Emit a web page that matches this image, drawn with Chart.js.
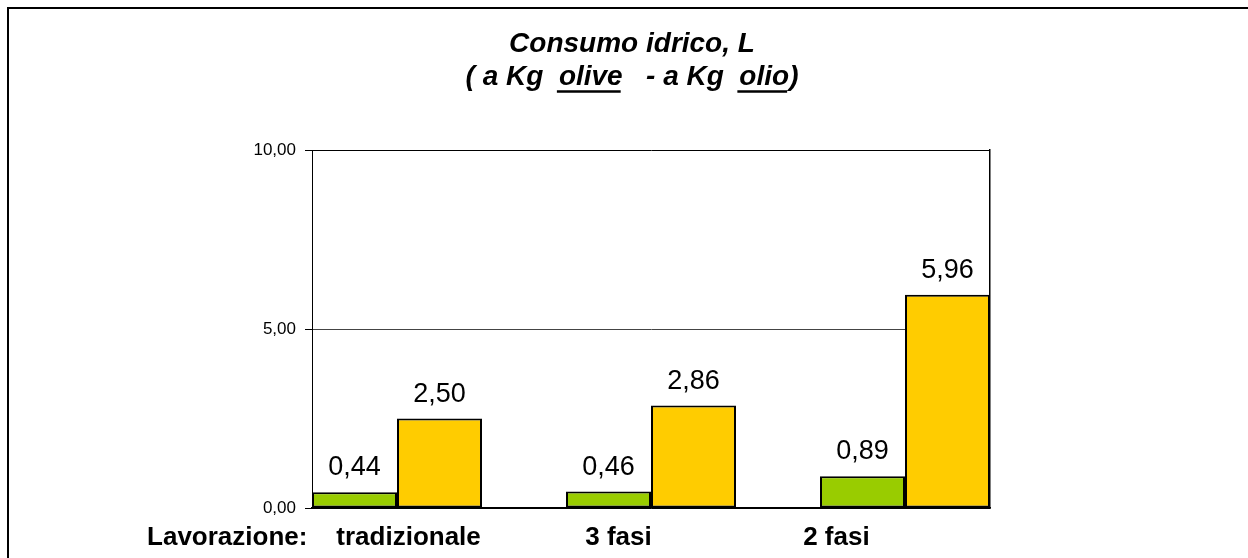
<!DOCTYPE html>
<html>
<head>
<meta charset="utf-8">
<script src="https://cdn.jsdelivr.net/npm/chart.js@4.4.0/dist/chart.umd.min.js"></script>
<style>
    html, body { margin: 0; padding: 0; background: #fff; overflow: hidden; }
    #wrap { position: relative; width: 1248px; height: 558px; }
    #frame {
        position: absolute; left: 7px; top: 7px; width: 1300px; height: 600px;
        border: 2px solid #000; pointer-events: none;
    }
</style>
</head>
<body>
<div id="wrap">
    <canvas id="chart1" width="1248" height="558"></canvas>
    <div id="frame"></div>
</div>
<script>
// data
const categories = ["Lavorazione:    tradizionale", "3 fasi", "2 fasi"];
const oliveValues = [0.44, 0.46, 0.89];   // a Kg olive
const olioValues = [2.50, 2.86, 5.96];    // a Kg olio
const yTicks = [0, 5, 10];
const titleLines = ["Consumo idrico, L", "( a Kg  olive   - a Kg  olio)"];
const underlined = ["olive", "olio"];

// trailing spaces so the labels sit where excel put them
const labelPad = [23, 9, 19];

const fmt = v => v.toFixed(2).replace(".", ",");

// value labels above each bar
const valueLabels = {
    id: "valueLabels",
    afterDatasetsDraw(chart) {
        const ctx = chart.ctx;
        ctx.save();
        ctx.font = "27px 'Liberation Sans', Arial, sans-serif";
        ctx.fillStyle = "#000";
        ctx.textAlign = "center";
        ctx.textBaseline = "alphabetic";
        chart.data.datasets.forEach((ds, di) => {
            const meta = chart.getDatasetMeta(di);
            meta.data.forEach((bar, i) => {
                ctx.fillText(fmt(ds.data[i].y), bar.x, bar.y - 17);
            });
        });
        ctx.restore();
    }
};

// underline "olive" and "olio" in the second title line
const titleUnderline = {
    id: "titleUnderline",
    afterDraw(chart) {
        const tb = chart.titleBlock;
        const opts = tb.options;
        const ctx = chart.ctx;
        const size = opts.font.size;
        const lh = size * opts.font.lineHeight;
        ctx.save();
        ctx.font = "italic bold " + size + "px 'Liberation Sans', Arial, sans-serif";
        const line = titleLines[1];
        const cx = tb.left + tb.width / 2;
        const startX = cx - ctx.measureText(line).width / 2;
        const y = tb.top + opts.padding.top + lh * 1.5 + 14;
        ctx.strokeStyle = "#000";
        ctx.lineWidth = 2.5;
        underlined.forEach(word => {
            const idx = line.indexOf(word);
            const x0 = startX + ctx.measureText(line.slice(0, idx)).width;
            const w = ctx.measureText(word).width;
            ctx.beginPath();
            ctx.moveTo(x0 - 2, y);
            ctx.lineTo(x0 + w - 2, y);
            ctx.stroke();
        });
        ctx.restore();
    }
};

const c1 = document.getElementById("chart1");
const chartObject1 = new Chart(c1, {
    type: "bar",
    data: {
        datasets: [{
            label: "a Kg olive",
            data: oliveValues.map((v, i) => ({ x: i, y: v })),
            backgroundColor: "#99CC00",
            borderColor: "#000",
            borderWidth: 2,
            borderSkipped: false,
            clip: false
        }, {
            label: "a Kg olio",
            data: olioValues.map((v, i) => ({ x: i, y: v })),
            backgroundColor: "#FFCC00",
            borderColor: "#000",
            borderWidth: 2,
            borderSkipped: false,
            clip: false
        }]
    },
    plugins: [valueLabels, titleUnderline],
    options: {
        responsive: false,
        animation: false,
        events: [],
        categoryPercentage: 170 / 254,
        barPercentage: 1,
        layout: { padding: { left: 16, right: 0, top: 0, bottom: 0 } },
        plugins: {
            legend: { display: false },
            tooltip: { enabled: false },
            title: {
                display: true,
                text: titleLines,
                color: "#000",
                font: { family: "'Liberation Sans', Arial, sans-serif", size: 28, weight: "bold", style: "italic", lineHeight: 33 / 28 },
                padding: { top: 28, bottom: 56 }
            }
        },
        scales: {
            x: {
                type: "linear",
                offset: false,
                min: -0.5 * 170 / 254,
                max: 2 + 0.5 * 170 / 254,
                afterBuildTicks: scale => {
                    scale.ticks = categories.map((c, i) => ({ value: i }));
                },
                afterFit: scale => { scale.height = 50; },
                grid: { display: false, offset: false, drawTicks: false },
                border: { display: true, color: "#000", width: 1.5 },
                ticks: {
                    padding: 14,
                    autoSkip: false,
                    maxRotation: 0,
                    color: "#000",
                    font: { family: "'Liberation Sans', Arial, sans-serif", size: 26, weight: "bold" },
                    callback: v => categories[v] + " ".repeat(labelPad[v])
                }
            },
            y: {
                min: 0,
                max: 10,
                afterBuildTicks: scale => {
                    scale.ticks = yTicks.map(v => ({ value: v }));
                },
                afterFit: scale => { scale.width = 312 - 16; },
                grid: {
                    color: ctx => (ctx.tick && ctx.tick.value === 5) ? "#444" : "#000",
                    lineWidth: 1,
                    tickLength: 7,
                    tickColor: "#000"
                },
                border: { display: true, color: "#000", width: 1 },
                ticks: {
                    padding: 9,
                    color: "#000",
                    font: { family: "'Liberation Sans', Arial, sans-serif", size: 17 },
                    callback: v => fmt(v)
                }
            },
            y2: {
                position: "right",
                min: 0,
                max: 10,
                afterFit: scale => { scale.width = 1248 - 990; },
                grid: { display: false },
                ticks: { display: false },
                border: { display: true, color: "#000", width: 1.5 }
            }
        }
    }
});
</script>
</body>
</html>
